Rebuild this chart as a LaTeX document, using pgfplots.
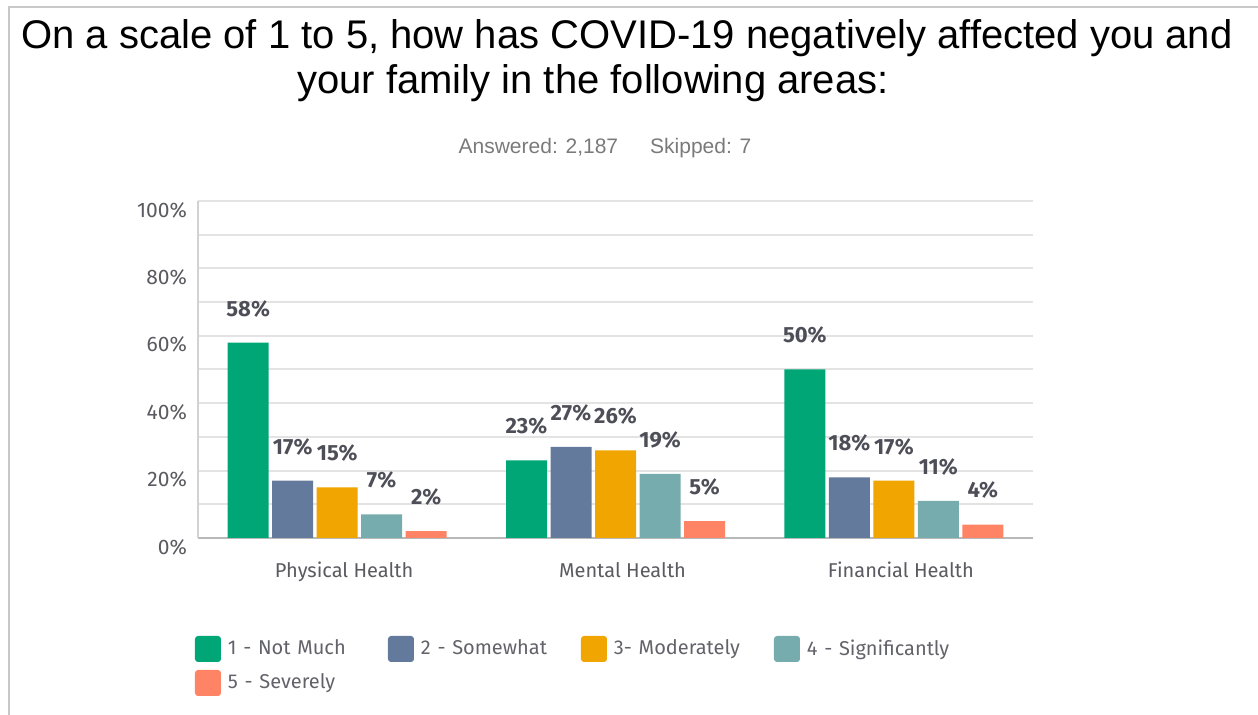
\documentclass[border=0pt]{standalone}
\usepackage{pgfplots}
\pgfplotsset{compat=1.18}
\usepackage{fontspec}
\setmainfont{Fira Sans}
\newfontfamily\titlefont{Liberation Sans}
\definecolor{c1}{HTML}{00A676}
\definecolor{c2}{HTML}{637A9C}
\definecolor{c3}{HTML}{F0A500}
\definecolor{c4}{HTML}{76ACAE}
\definecolor{c5}{HTML}{FF8465}
\definecolor{framegray}{HTML}{C8C8C8}
\definecolor{gridgray}{HTML}{E3E3E3}
\definecolor{xaxgray}{HTML}{B8B8B8}
\definecolor{yaxgray}{HTML}{D2D2D2}
\definecolor{labgray}{HTML}{5A5A60}
\definecolor{valgray}{HTML}{4E4E58}
\definecolor{leggray}{HTML}{62626A}
\definecolor{subgray}{HTML}{7A7A7A}
\begin{document}
\begin{tikzpicture}
\path[use as bounding box] (0pt,0pt) rectangle (629pt,357.5pt);
\draw[framegray, line width=1pt] (4.5pt,0pt) -- (4.5pt,353.75pt) -- (629pt,353.75pt);
\node[font=\titlefont\fontsize{20}{24}\selectfont, text=black] at (313.5pt,338.5pt) {On a scale of 1 to 5, how has COVID-19 negatively affected you and};
\node[font=\titlefont\fontsize{20}{24}\selectfont, text=black] at (296.5pt,316pt) {your family in the following areas:};
\node[font=\titlefont\fontsize{10.5}{12}\selectfont, text=subgray] at (302.5pt,283.5pt) {Answered: 2,187\hspace{16pt}Skipped: 7};
\begin{axis}[
  at={(99pt,88.5pt)}, anchor=south west,
  scale only axis, width=417.5pt, height=168.5pt,
  ybar=1.75pt, bar width=20.5pt,
  xmin=-0.5, xmax=2.5, ymin=0, ymax=100,
  xtick={0,1,2},
  xticklabels={Physical Health, Mental Health, Financial Health},
  ytick={0,20,...,100},
  minor ytick={10,30,50,70,90},
  yticklabel={\pgfmathprintnumber{\tick}\%},
  /pgf/number format/assume math mode=true,
  ymajorgrids, yminorgrids,
  major grid style={draw=gridgray, line width=1pt},
  minor grid style={draw=gridgray, line width=1pt},
  axis x line*=bottom, axis y line*=left,
  x axis line style={draw=xaxgray, line width=1.1pt},
  y axis line style={draw=yaxgray, line width=1.4pt},
  major tick length=0pt, minor tick length=0pt,
  tick style={draw=none},
  xticklabel style={font=\fontsize{10}{12}\selectfont, text=labgray, xshift=3.5pt, yshift=-8.5pt},
  yticklabel style={font=\fontsize{10.5}{12}\selectfont, text=labgray, xshift=-2pt, yshift=-4.5pt},
  nodes near coords={\pgfmathprintnumber{\pgfplotspointmeta}\%},
  nodes near coords style={font=\bfseries\fontsize{11}{13}\selectfont, text=valgray, anchor=center, yshift=17pt},
  legend columns=4,
  legend cell align=left,
  legend image code/.code={\fill[#1, rounded corners=1.5pt] (0pt,-6.5pt) rectangle (13pt,6.5pt);},
  legend style={at={(rel axis cs:-0.0036,-0.2908)}, anchor=north west, draw=none, fill=none,
    inner sep=0pt, outer sep=0pt, font=\fontsize{10}{12}\selectfont, text=leggray,
    row sep=4pt, nodes={inner sep=0pt, text width=80pt},
    /tikz/every odd column/.append style={column sep=3.5pt}},
]
\addplot[fill=c1, draw=none] coordinates {(0,58) (1,23) (2,50)};
\addplot[fill=c2, draw=none] coordinates {(0,17) (1,27) (2,18)};
\addplot[fill=c3, draw=none] coordinates {(0,15) (1,26) (2,17)};
\addplot[fill=c4, draw=none] coordinates {(0,7) (1,19) (2,11)};
\addplot[fill=c5, draw=none] coordinates {(0,2) (1,5) (2,4)};
\legend{1 - Not Much, 2 - Somewhat, 3- Moderately, 4 - Significantly, 5 - Severely}
\end{axis}
\end{tikzpicture}
\end{document}
